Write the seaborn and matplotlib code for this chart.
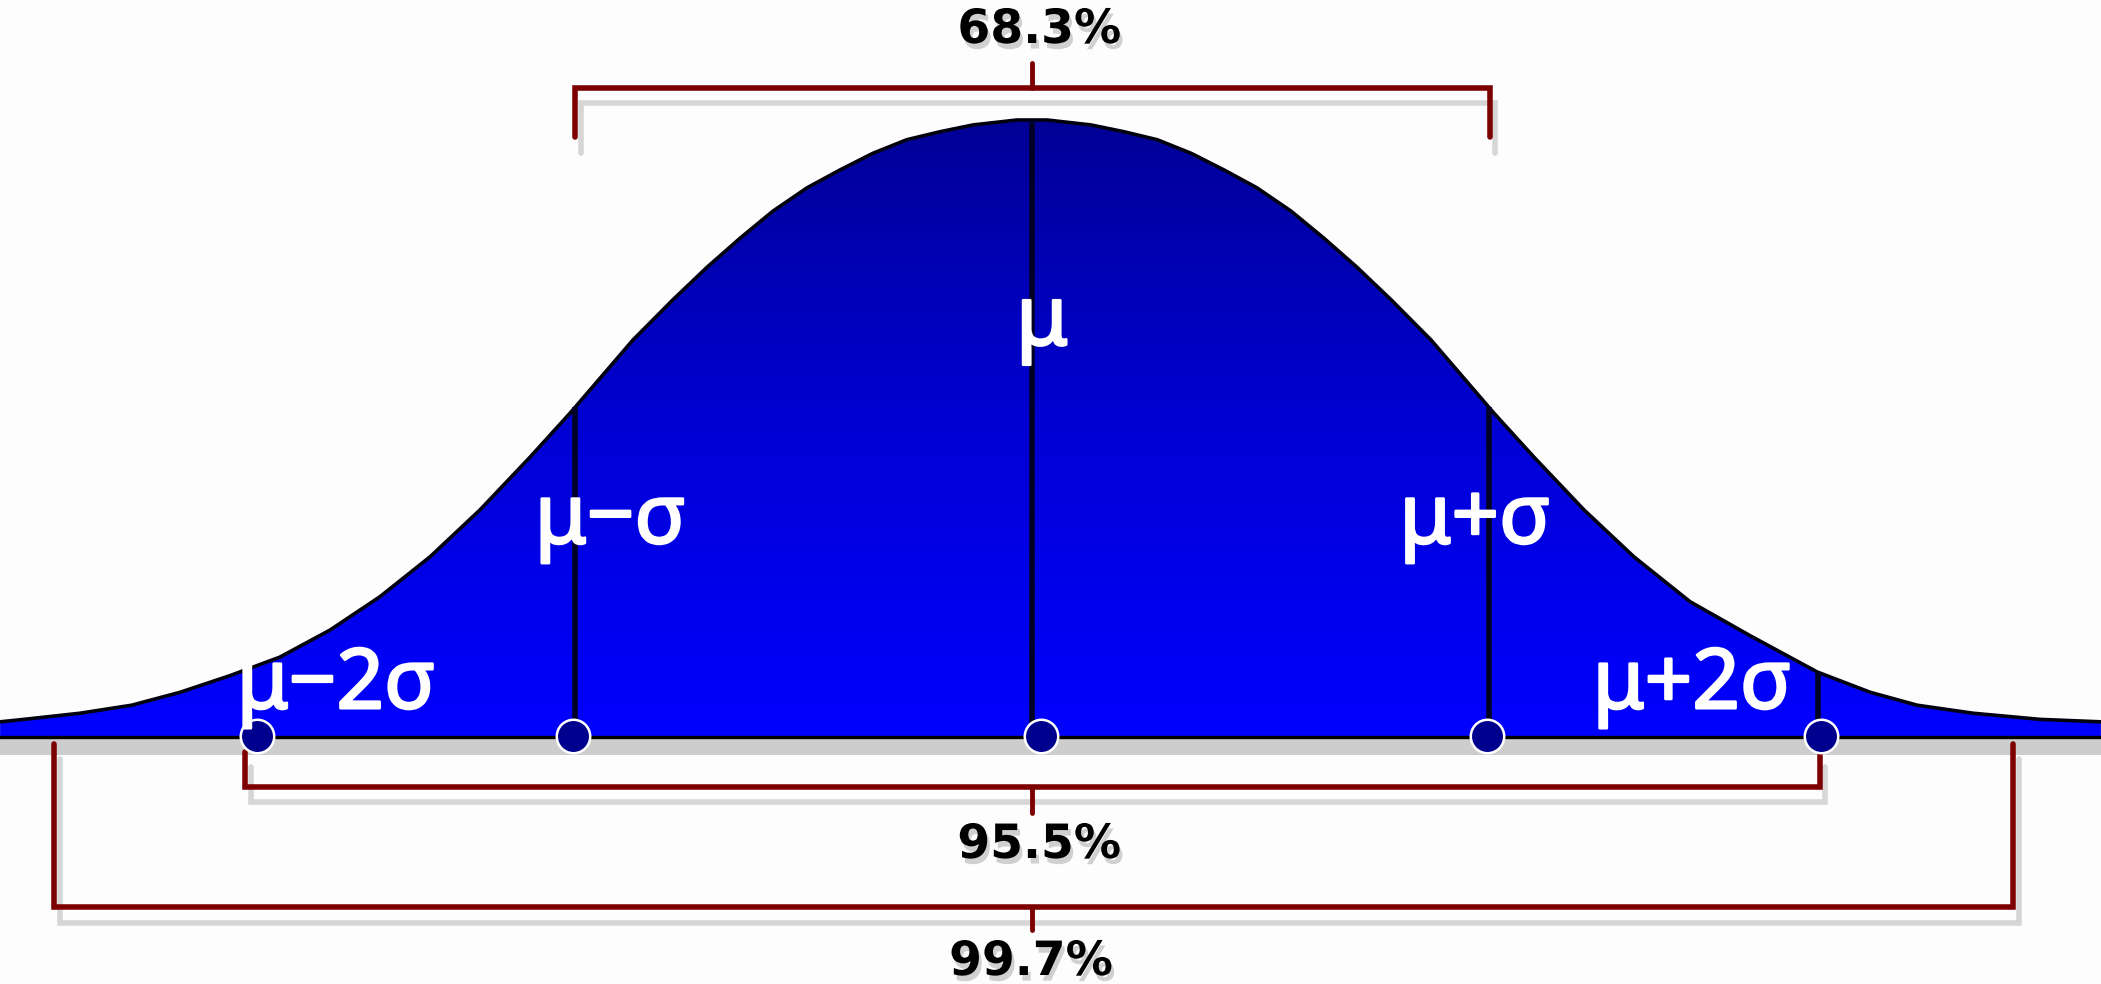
import numpy as np
import matplotlib
matplotlib.use('Agg')
import matplotlib.pyplot as plt
import matplotlib.patheffects as pe
from matplotlib.colors import LinearSegmentedColormap
from matplotlib.patches import Polygon
import seaborn as sns

# bell curve: x in sigma units, height relative to the peak
curve_x = [-2.258, -2.206, -2.083, -1.97, -1.864, -1.755, -1.646, -1.536, -1.427, -1.317,
           -1.208, -1.098, -1.011, -0.873, -0.786, -0.711, -0.639, -0.567, -0.492, -0.420,
           -0.348, -0.274, -0.201, -0.129, -0.033, 0.0, 0.033, 0.129, 0.201, 0.274,
           0.348, 0.420, 0.492, 0.567, 0.639, 0.711, 0.786, 0.873, 1.011, 1.098,
           1.208, 1.317, 1.440, 1.571, 1.718, 1.834, 1.937, 2.059, 2.206, 2.339]
curve_y = [0.023, 0.027, 0.037, 0.050, 0.071, 0.098, 0.128, 0.172, 0.226, 0.291,
           0.367, 0.453, 0.524, 0.643, 0.708, 0.761, 0.808, 0.852, 0.890, 0.919,
           0.946, 0.968, 0.981, 0.992, 1.0, 1.0, 1.0, 0.992, 0.981, 0.968,
           0.946, 0.919, 0.890, 0.852, 0.808, 0.761, 0.708, 0.643, 0.524, 0.453,
           0.367, 0.291, 0.218, 0.163, 0.104, 0.071, 0.050, 0.037, 0.027, 0.023]

# sigma markers
line_x = [-1.0, 0.0, 1.0, 1.72]
dot_x = [-1.696, -1.004, 0.02, 0.996, 1.726]
sigma_labels = ['μ−2σ', 'μ−σ', 'μ', 'μ+σ', 'μ+2σ']
label_x = [-1.523, -0.923, 0.022, 0.969, 1.444]
label_y = [0.045, 0.313, 0.635, 0.313, 0.045]

# percentage brackets
pct_labels = ['68.3%', '95.5%', '99.7%']
bracket_lo = [-1.0, -1.722, -2.14]
bracket_hi = [1.002, 1.724, 2.147]
bracket_y = [1.052, -0.083, -0.278]
bracket_end_y = [0.972, -0.026, -0.013]
tick_end_y = [1.093, -0.125, -0.315]
pct_x = [0.016, 0.016, -0.002]
pct_y = [1.125, -0.198, -0.388]

sns.set_style('white')
plt.rcParams['font.family'] = ['Noto Sans', 'DejaVu Sans']

fig = plt.figure(figsize=(21.01, 9.84), dpi=100)
fig.patch.set_facecolor('#fdfdfd')
ax = fig.add_axes([0, 0, 1, 1])
ax.set_facecolor('#fdfdfd')
xmin, xmax = -1032 / 457, (2101 - 1032) / 457
ax.set_xlim(xmin, xmax)
ax.set_ylim(-248 / 616, 736 / 616)
ax.axis('off')

# gradient fill under the curve
blues = LinearSegmentedColormap.from_list('bl', ['#0000ff', '#0000d4', '#000096'])
grad = np.linspace(0, 1, 256).reshape(-1, 1)
im = ax.imshow(grad, extent=[xmin, xmax, 0, 1.0], aspect='auto', cmap=blues,
               origin='lower', zorder=1)
verts = list(zip(curve_x, curve_y)) + [(curve_x[-1], 0), (curve_x[0], 0)]
poly = Polygon(verts, closed=True, fc='none', ec='none')
ax.add_patch(poly)
im.set_clip_path(poly)

sns.lineplot(x=curve_x, y=curve_y, color='#00000f', lw=2.6, ax=ax, sort=False, zorder=3)

# baseline and its grey shadow
ax.axhspan(-0.031, -0.004, color='#cdcdcd', lw=0, zorder=2)
ax.axhline(-0.002, color='black', lw=2.4, zorder=3)

# sigma lines
tops = np.interp(line_x, curve_x, curve_y)
ax.vlines(line_x, 0, tops, color='#000024', lw=4, zorder=3)

sns.scatterplot(x=dot_x, y=[0.0] * len(dot_x), s=580, color='#00008f',
                edgecolor='white', linewidth=1.8, zorder=6, ax=ax)

# white labels, stroked a little to get the heavier weight of the original
for lab, x, y in zip(sigma_labels, label_x, label_y):
    ax.text(x, y, lab, color='white', fontsize=60, ha='center', va='baseline', zorder=7,
            path_effects=[pe.withStroke(linewidth=1.8, foreground='white')])

# brackets
red = '#7d0000'
shadow = [pe.SimpleLineShadow(offset=(4, -11), shadow_color='#d6d6d6', alpha=1), pe.Normal()]
for i, lab in enumerate(pct_labels):
    lo, hi, y = bracket_lo[i], bracket_hi[i], bracket_y[i]
    ax.plot([lo, lo, hi, hi], [bracket_end_y[i], y, y, bracket_end_y[i]], color=red,
            lw=4, solid_joinstyle='miter', zorder=4, path_effects=shadow)
    ax.plot([0, 0], [y, tick_end_y[i]], color=red, lw=3.5, zorder=4)
    ax.text(pct_x[i], pct_y[i], lab, color='black', fontsize=34, fontweight='bold',
            family='DejaVu Sans', ha='center', va='baseline', zorder=5,
            path_effects=[pe.SimplePatchShadow(offset=(2, -4), shadow_rgbFace='#d0d0d0', alpha=1),
                          pe.Normal()])

fig.savefig('out.png', dpi=100)
